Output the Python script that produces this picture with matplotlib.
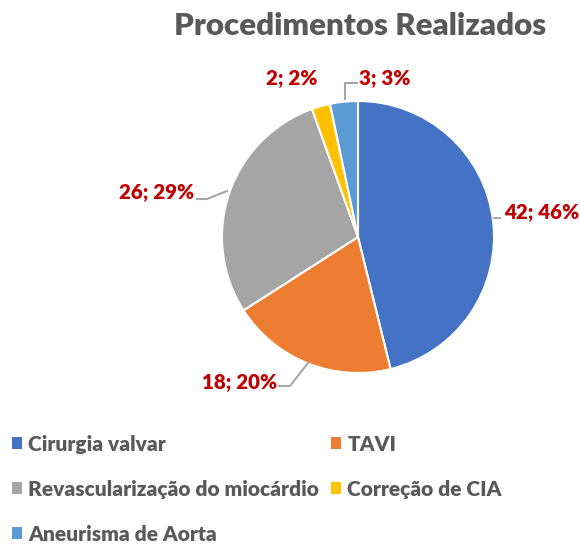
import matplotlib
matplotlib.use('Agg')
import matplotlib.pyplot as plt
from matplotlib.patches import Patch

plt.rcParams['font.family'] = ['Lato', 'DejaVu Sans']

# data
categorias = ['Cirurgia valvar', 'TAVI', 'Revascularização do miocárdio',
              'Correção de CIA', 'Aneurisma de Aorta']
valores = [42, 18, 26, 2, 3]
percentuais = [46, 20, 29, 2, 3]
cores = ['#4472C4', '#ED7D31', '#A5A5A5', '#FFC000', '#5B9BD5']

W, H = 580, 547
fig = plt.figure(figsize=(W / 100, H / 100), dpi=100)
ax = fig.add_axes([0, 0, 1, 1])

cx, cy, r = 358, H - 237, 136
ax.pie(valores, colors=cores, startangle=90, counterclock=False,
       center=(cx, cy), radius=r, frame=True,
       wedgeprops=dict(edgecolor='white', linewidth=1.5))
ax.set_xlim(0, W)
ax.set_ylim(0, H)
ax.set_aspect('equal')
ax.axis('off')

fig.text(360 / W, 1 - 26 / H, 'Procedimentos Realizados', ha='center', va='center',
         fontsize=22.5, fontweight='heavy', color='#595959')

# label positions (pixel, top-origin) and leader lines
lab_pos = [(579, 212, 'right'), (277, 382, 'right'), (194, 193, 'right'),
           (318, 79, 'right'), (359, 78, 'left')]
leaders = [[(494, 218), (500, 218)],
           [(279, 386), (290, 386), (308, 363)],
           [(197, 199), (207, 199), (227, 191)],
           None,
           [(357, 83), (345, 83), (345, 99)]]
for v, p, (x, y, ha), ld in zip(valores, percentuais, lab_pos, leaders):
    ax.text(x, H - y, f'{v}; {p}%', ha=ha, va='center', fontsize=14.8,
            fontweight='heavy', color='#C00000')
    if ld:
        ax.plot([q[0] for q in ld], [H - q[1] for q in ld], color='#A6A6A6', lw=1.5)

# legend in row order, two columns
ordem = [0, 2, 4, 1, 3]
handles = [Patch(facecolor=cores[i], edgecolor='none') for i in ordem]
nomes = [categorias[i] for i in ordem]
leg = fig.legend(handles, nomes, loc='upper left', ncol=2,
                 bbox_to_anchor=(-5 / W, 1 - 418 / H), frameon=False,
                 prop=dict(size=15, weight='heavy'), labelcolor='#595959',
                 handlelength=0.5, handleheight=0.5, handletextpad=0.3,
                 columnspacing=0.55, labelspacing=1.25, borderpad=0.3)

fig.savefig('out.png', dpi=100)
